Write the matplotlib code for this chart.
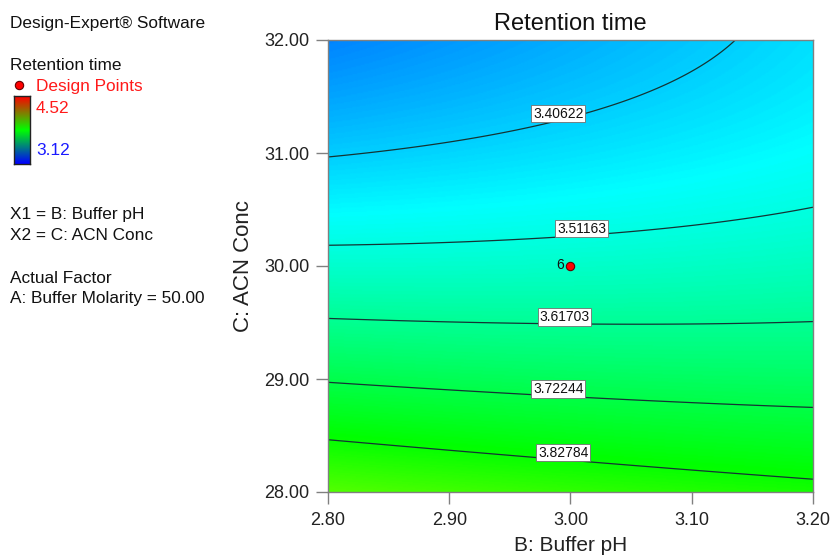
import matplotlib.pyplot as plt
import numpy as np
from matplotlib.colors import LinearSegmentedColormap, Normalize
from matplotlib.lines import Line2D

plt.rcParams['font.family'] = ['Liberation Sans', 'DejaVu Sans']

# level lines of the response, traced as (pH, ACN conc) points
level_values = [3.40622, 3.51163, 3.61703, 3.72244, 3.82784]
trace_ph = [
    [2.800, 2.942, 2.968, 3.012, 3.074, 3.137],
    [2.800, 2.942, 3.030, 3.107, 3.200],
    [2.800, 2.925, 3.090, 3.200],
    [2.800, 2.925, 3.090, 3.200],
    [2.800, 2.925, 3.090, 3.200],
]
trace_acn = [
    [30.96, 31.16, 31.26, 31.36, 31.56, 31.99],
    [30.19, 30.22, 30.29, 30.38, 30.54],
    [29.54, 29.50, 29.47, 29.51],
    [28.97, 28.88, 28.79, 28.74],
    [28.46, 28.35, 28.22, 28.11],
]

design_ph = [3.00]
design_acn = [30.00]
design_runs = ['6']

resp_low, resp_high = 3.12, 4.52
ph_ticks = [2.80, 2.90, 3.00, 3.10, 3.20]
acn_ticks = [28.00, 29.00, 30.00, 31.00, 32.00]

# where the contour values get written (pH)
label_ph = [2.990, 3.009, 2.995, 2.990, 2.994]


def coded(ph, acn):
    x1 = (np.asarray(ph) - 3.0) / 0.2
    x2 = (np.asarray(acn) - 30.0) / 2.0
    return np.stack([np.ones_like(x1), x1, x2, x1 * x2, x1 ** 2, x2 ** 2], axis=-1)


# quadratic response surface fitted to the traced level lines
pts_ph = np.concatenate([np.array(p, float) for p in trace_ph])
pts_acn = np.concatenate([np.array(a, float) for a in trace_acn])
pts_y = np.concatenate([[lv] * len(p) for lv, p in zip(level_values, trace_ph)])
coef, *_ = np.linalg.lstsq(coded(pts_ph, pts_acn), pts_y, rcond=None)

gph, gacn = np.meshgrid(np.linspace(2.8, 3.2, 400), np.linspace(28.0, 32.0, 400))
resp = coded(gph, gacn) @ coef

field_cmap = LinearSegmentedColormap.from_list(
    'de_field', [(0.0, '#0000ff'), (0.25, '#00ffff'), (0.5, '#00ff00'),
                 (0.75, '#ffff00'), (1.0, '#ff0000')])
key_cmap = LinearSegmentedColormap.from_list(
    'de_key', ['#0000ff', '#00ff00', '#ff0000'])
norm = Normalize(resp_low, resp_high)

W, H = 832, 558
fig = plt.figure(figsize=(W / 100, H / 100), dpi=100)


def fx(x):
    return x / W


def fy(y):
    return 1 - y / H


ax = fig.add_axes([fx(328), fy(492), (813 - 328) / W, (492 - 40) / H])
ax.imshow(resp, extent=[2.8, 3.2, 28.0, 32.0], origin='lower', aspect='auto',
          cmap=field_cmap, norm=norm, interpolation='bilinear')
cs = ax.contour(gph, gacn, resp, levels=level_values, colors='#143434',
                linewidths=0.9)

# contour values in small white boxes sitting on their lines
for lv, seg_list, lx in zip(level_values, cs.allsegs, label_ph):
    seg = max(seg_list, key=len)
    order = np.argsort(seg[:, 0])
    ly = np.interp(lx, seg[order, 0], seg[order, 1])
    ax.annotate(f'{lv:.5f}', xy=(lx, ly), xytext=(0, 5), textcoords='offset points',
                ha='center', va='center', fontsize=10, color='#111111', zorder=5,
                bbox=dict(boxstyle='square,pad=0.12', fc='white', ec='#707070', lw=0.6))

ax.plot(design_ph, design_acn, 'o', ms=6, mfc='#ff0000', mec='#660000', mew=0.8, zorder=6)
for x, y, run in zip(design_ph, design_acn, design_runs):
    ax.annotate(run, xy=(x, y), xytext=(-5, 1), textcoords='offset points',
                ha='right', va='center', fontsize=10, color='#111111')

ax.set_xlim(2.8, 3.2)
ax.set_ylim(28.0, 32.0)
ax.set_xticks(ph_ticks, [f'{t:.2f}' for t in ph_ticks])
ax.set_yticks(acn_ticks, [f'{t:.2f}' for t in acn_ticks])
ax.tick_params(direction='out', length=8.6, width=1, color='#808080',
               labelsize=13, labelcolor='#222222', pad=5)
ax.tick_params(axis='x', pad=6)
for sp in ax.spines.values():
    sp.set_color('#808080')
    sp.set_linewidth(1)
ax.set_title('Retention time', fontsize=17, color='#111111', pad=7)
ax.set_xlabel('B: Buffer pH', fontsize=15, color='#222222', labelpad=5)
ax.set_ylabel('C: ACN Conc', fontsize=16, color='#222222', labelpad=7)

# side panel
txt = dict(fontsize=12.4, color='#111111', va='baseline', ha='left')
fig.text(fx(10), fy(28), 'Design-Expert® Software', **txt)
fig.text(fx(10), fy(70), 'Retention time', **txt)
fig.add_artist(Line2D([fx(19)], [fy(85)], marker='o', ms=6, mfc='#ff0000',
                      mec='#660000', mew=0.8, transform=fig.transFigure))
fig.text(fx(36), fy(91), 'Design Points', fontsize=12.4, color='#ff1a1a',
         va='baseline', ha='left')

kax = fig.add_axes([fx(14), fy(164), (30 - 14) / W, (164 - 96) / H])
kax.imshow(np.linspace(0, 1, 100)[:, None], cmap=key_cmap, origin='lower',
           aspect='auto', extent=[0, 1, 0, 1])
kax.set_xticks([])
kax.set_yticks([])
for sp in kax.spines.values():
    sp.set_color('#222222')
    sp.set_linewidth(1)
fig.text(fx(36), fy(113), f'{resp_high:.2f}', fontsize=12.4, color='#ff1a1a',
         va='baseline', ha='left')
fig.text(fx(36), fy(155), f'{resp_low:.2f}', fontsize=12.4, color='#1a1aff',
         va='baseline', ha='left')

fig.text(fx(10), fy(219), 'X1 = B: Buffer pH', **txt)
fig.text(fx(10), fy(240), 'X2 = C: ACN Conc', **txt)
fig.text(fx(10), fy(283), 'Actual Factor', **txt)
fig.text(fx(10), fy(303), 'A: Buffer Molarity = 50.00', **txt)

fig.savefig('out.png', dpi=100)
